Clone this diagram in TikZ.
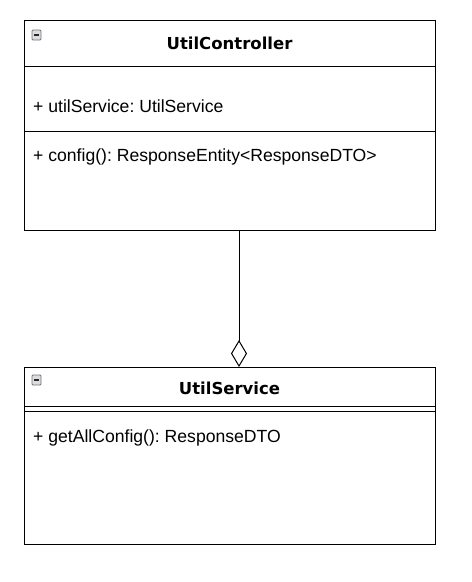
\documentclass[tikz,border=0pt]{standalone}
\usepackage{fontspec}
\setmainfont{Liberation Sans}
\newfontfamily\titlefont{DejaVu Sans}
\usetikzlibrary{arrows.meta}
\frenchspacing
\begin{document}
\begin{tikzpicture}[x=1pt,y=-1pt,
  box/.style={draw=black,line width=1pt,fill=white},
  sep/.style={draw=black,line width=1pt},
  ttl/.style={font=\titlefont\bfseries\fontsize{16.5}{19}\selectfont,inner sep=0},
  mem/.style={font=\fontsize{17.6}{20}\selectfont,anchor=west,inner sep=0},
  icon/.style={draw=black!55,fill=blue!6!gray!25,line width=0.8pt,rounded corners=1pt},
  minus/.style={line width=1.8pt,black!85},
  assoc/.style={line width=1pt,-{Diamond[open,length=27pt,width=16pt,line width=1pt]}}]
\useasboundingbox (0,0) rectangle (472,582);
% UtilController
\node[box,minimum width=411pt,minimum height=210pt,inner sep=0,anchor=north west] (ctrl) at (24,20) {};
\draw[sep] (24,66) -- (435,66);
\draw[sep] (24,131) -- (435,131);
\draw[icon] (32,30) rectangle (41,40);
\draw[minus] (34,35) -- (39,35);
\node[ttl] (ctrlname) at (229.5,43) {UtilController};
\node[mem] (attr) at (33,106) {+ utilService: UtilService};
\node[mem] (op1) at (33,157) {+ config(): ResponseEntity<ResponseDTO>};
% UtilService
\node[box,minimum width=411pt,minimum height=177pt,inner sep=0,anchor=north west] (svc) at (24,367) {};
\draw[sep] (24,406) -- (435,406);
\draw[sep] (24,411) -- (435,411);
\draw[icon] (32,375) rectangle (41,385);
\draw[minus] (34,380) -- (39,380);
\node[ttl] (svcname) at (229.5,388) {UtilService};
\node[mem] (op2) at (33,438) {+ getAllConfig(): ResponseDTO};
% aggregation
\coordinate (ax) at (239,0);
\draw[assoc] (ax |- ctrl.south) -- (ax |- svc.north);
\end{tikzpicture}
\end{document}
